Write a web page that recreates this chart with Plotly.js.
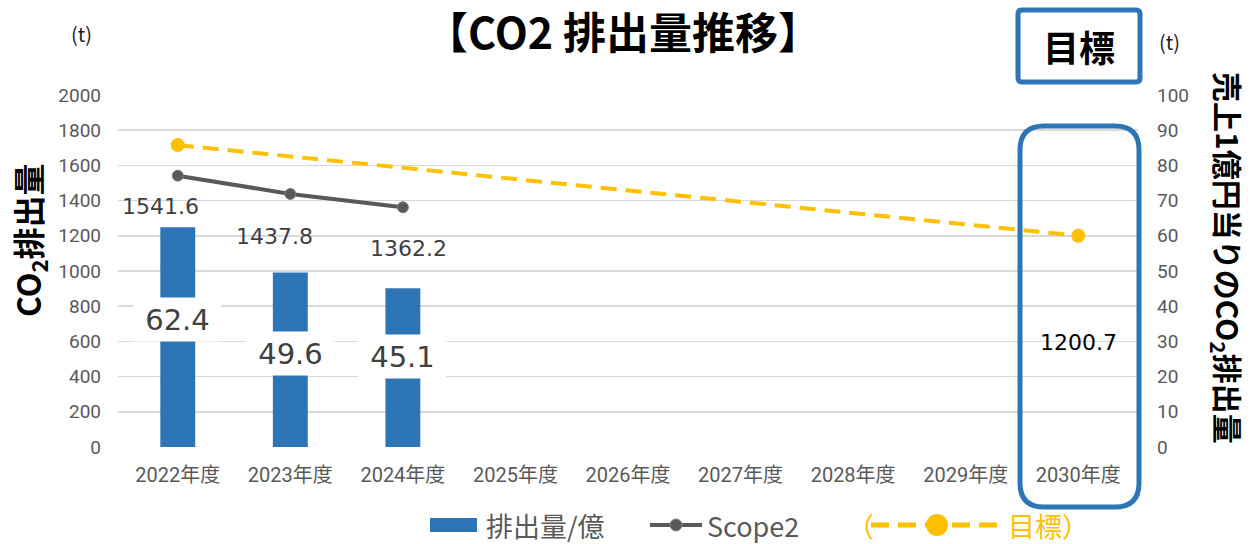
<!DOCTYPE html>
<html>
<head>
<meta charset="utf-8">
<script src="https://cdn.plot.ly/plotly-3.0.1.min.js"></script>
<style>html,body{margin:0;padding:0;background:#fff;}#chart{width:1252px;height:544px;}</style>
</head>
<body>
<div id="chart"></div>
<script>
// ---- data ----
const categories = ["2022年度","2023年度","2024年度","2025年度","2026年度","2027年度","2028年度","2029年度","2030年度"];
const perOkuValues = [62.4, 49.6, 45.1, null, null, null, null, null, null];      // 排出量/億 (right axis)
const scope2Values = [1541.6, 1437.8, 1362.2, null, null, null, null, null, null]; // Scope2 (left axis)
const targetValues = [1715.3, null, null, null, null, null, null, null, 1200.7];   // 目標 (left axis)
const leftTicks = [0,200,400,600,800,1000,1200,1400,1600,1800,2000];
const rightTicks = [0,10,20,30,40,50,60,70,80,90,100];
const seriesNames = ["排出量/億", "Scope2", "目標"];

// ---- layout helpers (pixel -> paper) ----
const M = {l:118, r:114, t:95, b:97, autoexpand: false};
const W = 1252, H = 544;
const PW = W - M.l - M.r, PH = H - M.t - M.b;
const px = x => (x - M.l) / PW;
const py = y => (H - M.b - y) / PH;
function roundRect(x0, y0, x1, y1, r) {
  const p = (x, y) => px(x) + ',' + py(y);
  return 'M' + p(x0 + r, y0) + ' L' + p(x1 - r, y0) + ' Q' + p(x1, y0) + ' ' + p(x1, y0 + r) +
    ' L' + p(x1, y1 - r) + ' Q' + p(x1, y1) + ' ' + p(x1 - r, y1) +
    ' L' + p(x0 + r, y1) + ' Q' + p(x0, y1) + ' ' + p(x0, y1 - r) +
    ' L' + p(x0, y0 + r) + ' Q' + p(x0, y0) + ' ' + p(x0 + r, y0) + ' Z';
}

const FONT = '"Noto Sans CJK JP", "Noto Sans", sans-serif';
const TICKFONT = 'Roboto, "Noto Sans CJK JP", sans-serif';
const NUMFONT = '"DejaVu Sans", sans-serif';
const GRAY = '#595959';
const BLUE = '#2E75B6';
const YELLOW = '#FFC000';

const traces = [
  {
    type: 'bar', name: seriesNames[0], x: categories, y: perOkuValues, yaxis: 'y2',
    marker: {color: BLUE}, width: 0.31, showlegend: false
  },
  {
    type: 'scatter', mode: 'lines+markers', name: seriesNames[1], x: categories, y: scope2Values,
    line: {color: GRAY, width: 4}, marker: {color: GRAY, size: 11, line: {color: '#808080', width: 1}}, showlegend: false
  },
  {
    type: 'scatter', mode: 'lines+markers', name: seriesNames[2],
    x: categories, y: targetValues, connectgaps: true,
    line: {color: YELLOW, width: 4, dash: '16px,9px'}, marker: {color: YELLOW, size: 14}, showlegend: false
  }
];

const annotations = [];
// bar value labels (white boxes)
const barLabelShifts = [18, 6, 11];
perOkuValues.forEach((v, i) => {
  if (v == null) return;
  annotations.push({
    x: categories[i], y: v / 2, xref: 'x', yref: 'y2', yshift: barLabelShifts[i],
    text: v.toFixed(1), showarrow: false, bgcolor: '#ffffff', width: 85, height: 41, borderpad: 1,
    font: {family: NUMFONT, size: 29, color: '#404040'}
  });
});
// scope2 labels
const scopeLabelOffsets = [[-17, -31], [-16, -43], [6, -41]];
scope2Values.forEach((v, i) => {
  if (v == null) return;
  annotations.push({
    x: categories[i], y: v, xref: 'x', yref: 'y', xshift: scopeLabelOffsets[i][0], yshift: scopeLabelOffsets[i][1],
    text: v.toFixed(1), showarrow: false,
    font: {family: NUMFONT, size: 22, color: '#404040'}
  });
});
// target 2030 label
annotations.push({
  x: categories[8], y: targetValues[8], xref: 'x', yref: 'y', yshift: -107,
  text: targetValues[8].toFixed(1), showarrow: false,
  font: {family: NUMFONT, size: 22, color: '#000000'}
});
function paperText(x, y, text, font, extra) {
  annotations.push(Object.assign({x: px(x), y: py(y), xref: 'paper', yref: 'paper', text: text, showarrow: false,
    font: font, xanchor: 'center', yanchor: 'middle'}, extra || {}));
}
// axis unit labels
paperText(81, 34, '(t)', {family: FONT, size: 20, color: '#222'});
paperText(1169, 41, '(t)', {family: FONT, size: 20, color: '#222'});
// axis titles
paperText(29, 240, '<b>CO<sub>2</sub>排出量</b>', {family: FONT, size: 32, color: '#000'}, {textangle: -90});
paperText(1228, 258, '<b>売上1億円当りのCO<sub>2</sub>排出量</b>', {family: FONT, size: 30, color: '#000'}, {textangle: 90});
// 目標 box text
paperText(1079, 46, '<b>目標</b>', {family: FONT, size: 36, color: '#000'});

// ---- manual legend ----
const LY = 525;
const legFont = {family: FONT, size: 27, color: GRAY};
paperText(484, LY, seriesNames[0], legFont, {xanchor: 'left'});
paperText(705, LY, seriesNames[1], legFont, {xanchor: 'left'});
paperText(860, LY, '（', {family: FONT, size: 27, color: YELLOW}, {xanchor: 'center'});
paperText(1006, LY, seriesNames[2] + '）', {family: FONT, size: 27, color: YELLOW}, {xanchor: 'left'});

const shapes = [
  {type: 'path', xref: 'paper', yref: 'paper', path: roundRect(1020, 126, 1139, 507, 24),
   line: {color: BLUE, width: 5}, fillcolor: 'rgba(0,0,0,0)'},
  {type: 'path', xref: 'paper', yref: 'paper', path: roundRect(1018, 10, 1140, 82, 4),
   line: {color: BLUE, width: 5}, fillcolor: 'rgba(0,0,0,0)'},
  // legend symbols
  {type: 'rect', xref: 'paper', yref: 'paper', x0: px(430), x1: px(477), y0: py(518), y1: py(532),
   line: {width: 0}, fillcolor: BLUE},
  {type: 'line', xref: 'paper', yref: 'paper', x0: px(650), x1: px(702), y0: py(LY), y1: py(LY),
   line: {color: GRAY, width: 4}},
  {type: 'circle', xref: 'paper', yref: 'paper', x0: px(670), x1: px(682), y0: py(LY - 6), y1: py(LY + 6),
   line: {color: '#808080', width: 1}, fillcolor: GRAY},
  {type: 'line', xref: 'paper', yref: 'paper', x0: px(871), x1: px(1003), y0: py(LY), y1: py(LY),
   line: {color: YELLOW, width: 5, dash: '18px,9px'}},
  {type: 'circle', xref: 'paper', yref: 'paper', x0: px(926), x1: px(948), y0: py(LY - 11), y1: py(LY + 11),
   line: {width: 0}, fillcolor: YELLOW}
];

const layout = {
  width: W, height: H,
  margin: M,
  paper_bgcolor: '#ffffff', plot_bgcolor: '#ffffff',
  font: {family: FONT, color: GRAY},
  title: {text: '<b>【CO2 排出量推移】</b>', x: 623 / W, xanchor: 'center', y: 1 - 34 / H, yanchor: 'middle',
    yref: 'container', xref: 'container', font: {family: FONT, size: 43, color: '#000'}},
  showlegend: false,
  xaxis: {type: 'category', tickfont: {family: TICKFONT, size: 20, color: GRAY}, showgrid: false, zeroline: false,
    showline: false, ticks: '', ticklabelstandoff: 14, fixedrange: true},
  yaxis: {range: [0, 2000], tickvals: leftTicks, ticktext: leftTicks.map(String), showgrid: true, gridcolor: '#d9d9d9', gridwidth: 1.5,
    zeroline: false, showline: false, ticks: '', ticklabelstandoff: 16, tickfont: {family: TICKFONT, size: 19, color: GRAY}},
  yaxis2: {range: [0, 100], tickvals: rightTicks, ticktext: rightTicks.map(String), overlaying: 'y', side: 'right', showgrid: false,
    zeroline: false, showline: false, ticks: '', ticklabelstandoff: 18, tickfont: {family: TICKFONT, size: 19, color: GRAY}},
  annotations: annotations,
  shapes: shapes
};

Plotly.newPlot('chart', traces, layout, {displayModeBar: false, staticPlot: true});
</script>
</body>
</html>
